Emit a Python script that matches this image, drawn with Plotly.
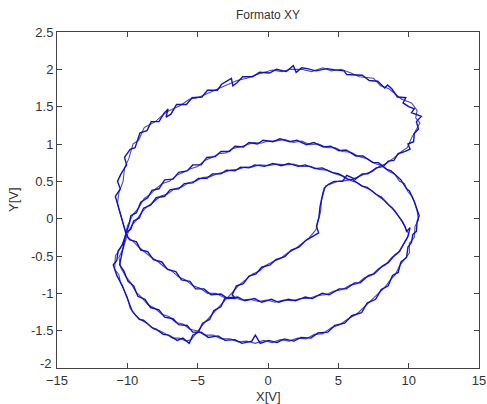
import plotly.graph_objects as go

# ---- data (two overlapping sweeps) ----
top_a = [(-10.1,-0.2),(-10.4,-0.02),(-10.55,0.1),(-10.85,0.3),(-10.5,0.4),(-10.7,0.5),(-10.45,0.6),(-10.05,0.72),(-10.2,0.82),(-9.8,0.93),(-9.45,0.95),(-9.1,1.15),(-8.6,1.18),(-8.3,1.3),(-7.75,1.3),(-7.4,1.41),(-7.1,1.47),(-7.25,1.36),(-6.9,1.4),(-6.5,1.53),(-5.8,1.53),(-5.4,1.62),(-4.7,1.63),(-4.3,1.72),(-3.6,1.72),(-3.3,1.8),(-2.6,1.88),(-2.5,1.78),(-2.2,1.82),(-1.8,1.9),(-1.1,1.9),(-0.6,1.96),(0.1,1.95),(0.6,2.0),(1.3,1.97),(1.8,2.05),(2.0,1.96),(2.4,2.02),(2.8,2.01),(3.4,1.98),(4.2,2.01),(4.9,1.99),(5.4,1.98),(5.6,1.93),(6.1,1.93),(6.7,1.92),(7.2,1.85),(7.8,1.84),(8.3,1.75),(8.5,1.79),(8.8,1.74),(9.2,1.63),(9.8,1.62),(9.6,1.55),(10.0,1.5),(10.4,1.47),(10.2,1.42),(10.9,1.37),(10.55,1.3),(10.7,1.2),(10.4,1.14),(10.35,1.03),(9.95,1.0),(10.1,0.93),(9.75,0.9),(9.25,0.87),(8.95,0.78),(8.55,0.77),(8.2,0.7),(7.7,0.68),(7.1,0.6),(6.7,0.6),(6.2,0.53),(5.6,0.58),(5.3,0.5),(4.7,0.5),(4.3,0.46)]
diag_a = [(4.0,0.41),(3.88,0.32),(3.7,0.16),(3.62,0.02),(3.45,-0.1),(3.6,-0.19),(3.1,-0.24),(2.7,-0.29),(2.2,-0.38),(1.65,-0.42),(1.2,-0.51),(0.55,-0.55),(0.15,-0.62),(-0.45,-0.65),(-0.85,-0.74),(-1.35,-0.77),(-1.75,-0.87),(-2.25,-0.9),(-2.55,-1.02),(-2.3,-1.07),(-3.05,-1.06),(-3.35,-1.18),(-3.85,-1.23),(-4.15,-1.35),(-4.65,-1.4),(-4.95,-1.52),(-5.35,-1.56),(-5.6,-1.67)]
lowleft_a = [(-6.05,-1.6),(-6.45,-1.63),(-7.05,-1.56),(-7.45,-1.55),(-7.95,-1.48),(-8.25,-1.46),(-8.85,-1.36),(-9.15,-1.35),(-9.65,-1.24),(-9.85,-1.15),(-10.25,-0.96),(-10.35,-0.9),(-10.75,-0.76),(-11.0,-0.62),(-10.75,-0.56),(-10.65,-0.43),(-10.35,-0.35),(-10.1,-0.2)]
mid_a = [(-9.85,-0.06),(-9.75,0.04),(-9.35,0.08),(-9.05,0.22),(-8.55,0.28),(-8.25,0.38),(-7.75,0.4),(-7.35,0.52),(-6.75,0.53),(-6.35,0.62),(-5.75,0.64),(-5.35,0.72),(-4.75,0.72),(-4.35,0.82),(-3.75,0.83),(-3.35,0.9),(-2.75,0.9),(-2.35,0.97),(-1.75,0.96),(-1.35,1.02),(-0.75,1.0),(-0.35,1.05),(0.35,1.03),(0.85,1.07),(1.55,1.03),(2.05,1.05),(2.75,0.99),(3.25,1.02),(3.95,0.96),(4.45,0.97),(5.05,0.91),(5.55,0.92),(6.25,0.84),(6.75,0.84),(7.45,0.75),(7.85,0.75),(8.45,0.66),(8.75,0.64),(9.25,0.55),(9.45,0.52),(9.85,0.4),(10.05,0.37),(10.4,0.23),(10.5,0.17),(10.75,0.04),(10.6,-0.04),(10.55,-0.17),(10.3,-0.21)]
botout_a = [(10.2,-0.32),(9.95,-0.38),(9.85,-0.52),(9.45,-0.58),(9.25,-0.72),(8.85,-0.76),(8.55,-0.9),(8.05,-0.95),(7.65,-1.08),(7.05,-1.13),(6.65,-1.26),(5.95,-1.3),(5.45,-1.4),(4.75,-1.43),(4.25,-1.52),(3.55,-1.53),(3.05,-1.6),(2.35,-1.59),(1.85,-1.64),(1.15,-1.61),(0.65,-1.66),(0.05,-1.63),(-0.55,-1.67),(-0.9,-1.56),(-1.15,-1.64),(-1.85,-1.67),(-2.35,-1.62),(-3.05,-1.63),(-3.55,-1.57),(-4.25,-1.59),(-4.75,-1.52),(-5.35,-1.52),(-5.75,-1.43),(-6.35,-1.42),(-6.75,-1.34),(-7.35,-1.32),(-7.75,-1.22),(-8.35,-1.19),(-8.75,-1.08),(-9.25,-1.04),(-9.55,-0.9),(-9.95,-0.84),(-10.25,-0.7),(-10.55,-0.62),(-10.35,-0.44),(-10.25,-0.32),(-10.1,-0.2)]
inner_a = [(-9.75,-0.14),(-9.55,-0.03),(-9.15,0.01),(-8.85,0.14),(-8.35,0.18),(-7.95,0.28),(-7.35,0.3),(-6.95,0.39),(-6.35,0.4),(-5.95,0.47),(-5.35,0.48),(-4.95,0.54),(-4.35,0.54),(-3.95,0.6),(-3.35,0.6),(-2.95,0.65),(-2.35,0.64),(-1.95,0.69),(-1.35,0.68),(-0.95,0.72),(-0.25,0.7),(0.35,0.74),(0.95,0.71),(1.45,0.74),(2.15,0.7),(2.65,0.72),(3.35,0.67),(3.85,0.68),(4.55,0.62),(5.05,0.6),(5.65,0.53),(6.05,0.52),(6.65,0.44),(7.05,0.42),(7.65,0.33),(8.05,0.29),(8.55,0.19),(8.85,0.14),(9.25,0.04),(9.45,-0.01),(9.75,-0.11),(9.85,-0.17),(10.1,-0.12)]
botin_a = [(9.95,-0.24),(9.75,-0.3),(9.35,-0.44),(9.05,-0.48),(8.55,-0.59),(8.15,-0.63),(7.55,-0.74),(7.15,-0.76),(6.55,-0.86),(6.15,-0.86),(5.55,-0.94),(5.05,-0.94),(4.35,-1.02),(3.85,-1.0),(3.15,-1.07),(2.65,-1.05),(1.95,-1.1),(1.45,-1.08),(0.75,-1.12),(0.25,-1.08),(-0.45,-1.12),(-0.95,-1.07),(-1.65,-1.1),(-2.15,-1.05),(-2.85,-1.07),(-3.35,-1.01),(-4.05,-1.02),(-4.55,-0.94),(-5.15,-0.94),(-5.55,-0.84),(-6.15,-0.82),(-6.55,-0.71),(-7.15,-0.68),(-7.55,-0.58),(-8.15,-0.55),(-8.55,-0.44),(-9.05,-0.42),(-9.35,-0.31),(-9.85,-0.28),(-10.1,-0.2)]

top_b = [(-10.0,-0.25),(-10.5,0.05),(-10.7,0.2),(-10.6,0.35),(-10.3,0.5),(-10.2,0.68),(-9.9,0.8),(-9.6,1.0),(-9.2,1.05),(-8.8,1.22),(-8.0,1.3),(-7.6,1.37),(-7.1,1.44),(-6.2,1.52),(-5.6,1.6),(-5.0,1.62),(-4.0,1.7),(-3.1,1.78),(-2.2,1.85),(-1.5,1.88),(-0.8,1.93),(0.3,1.99),(1.0,1.97),(1.6,2.0),(2.4,2.0),(3.1,1.97),(3.9,2.02),(4.5,1.98),(5.2,2.0),(5.9,1.95),(6.5,1.9),(7.5,1.88),(8.0,1.78),(8.6,1.74),(9.0,1.68),(9.5,1.6),(10.2,1.55),(10.6,1.45),(10.5,1.35),(10.8,1.28),(10.5,1.18),(10.2,1.08),(9.9,0.95),(9.5,0.9),(9.0,0.82),(8.4,0.74),(7.9,0.7),(7.4,0.63),(6.9,0.6),(6.4,0.56),(5.9,0.52),(5.0,0.5),(4.5,0.47)]
diag_b = [(4.1,0.44),(3.95,0.35),(3.8,0.25),(3.75,0.1),(3.55,-0.03),(3.4,-0.15),(2.9,-0.26),(2.4,-0.33),(1.9,-0.41),(1.4,-0.46),(0.9,-0.53),(0.3,-0.58),(-0.2,-0.63),(-0.6,-0.7),(-1.1,-0.74),(-1.6,-0.82),(-2.0,-0.88),(-2.4,-0.96),(-2.8,-1.04),(-3.2,-1.12),(-3.6,-1.2),(-4.0,-1.28),(-4.4,-1.37),(-4.8,-1.46),(-5.15,-1.55),(-5.45,-1.62)]
lowleft_b = [(-5.8,-1.64),(-6.3,-1.6),(-6.8,-1.6),(-7.2,-1.55),(-7.7,-1.5),(-8.1,-1.48),(-8.6,-1.4),(-9.0,-1.36),(-9.4,-1.3),(-9.8,-1.2),(-10.0,-1.05),(-10.5,-0.85),(-10.6,-0.75),(-10.9,-0.68),(-10.85,-0.5),(-10.5,-0.4),(-10.2,-0.28)]
mid_b = [(-10.0,-0.1),(-9.6,0.06),(-9.2,0.14),(-8.8,0.27),(-8.4,0.32),(-8.0,0.4),(-7.5,0.47),(-7.0,0.5),(-6.5,0.58),(-6.0,0.62),(-5.5,0.67),(-5.0,0.7),(-4.5,0.78),(-4.0,0.82),(-3.5,0.87),(-3.0,0.88),(-2.5,0.94),(-2.0,0.96),(-1.5,0.99),(-1.0,1.02),(-0.5,1.01),(0.0,1.04),(0.6,1.04),(1.2,1.06),(1.8,1.02),(2.4,1.04),(3.0,0.99),(3.6,1.0),(4.2,0.95),(4.8,0.95),(5.3,0.9),(5.9,0.89),(6.5,0.83),(7.1,0.8),(7.6,0.74),(8.1,0.71),(8.6,0.63),(9.0,0.6),(9.35,0.5),(9.7,0.47),(9.95,0.36),(10.25,0.3),(10.45,0.2),(10.6,0.1),(10.7,-0.02),(10.45,-0.1),(10.4,-0.25)]
botout_b = [(10.05,-0.33),(10.05,-0.46),(9.65,-0.55),(9.35,-0.63),(9.05,-0.75),(8.7,-0.82),(8.3,-0.92),(7.85,-1.0),(7.35,-1.1),(6.85,-1.18),(6.3,-1.28),(5.7,-1.34),(5.1,-1.42),(4.5,-1.46),(3.9,-1.54),(3.3,-1.55),(2.7,-1.61),(2.1,-1.6),(1.5,-1.64),(0.9,-1.62),(0.3,-1.66),(-0.3,-1.63),(-0.9,-1.67),(-1.5,-1.64),(-2.1,-1.65),(-2.7,-1.61),(-3.3,-1.61),(-3.9,-1.56),(-4.5,-1.56),(-5.05,-1.5),(-5.55,-1.48),(-6.05,-1.41),(-6.55,-1.39),(-7.05,-1.31),(-7.55,-1.28),(-8.05,-1.2),(-8.55,-1.15),(-9.0,-1.05),(-9.4,-0.98),(-9.75,-0.86),(-10.1,-0.78),(-10.45,-0.66),(-10.6,-0.52),(-10.3,-0.4),(-10.05,-0.26)]
inner_b = [(-9.9,-0.16),(-9.65,-0.08),(-9.35,-0.02),(-9.0,0.08),(-8.6,0.16),(-8.15,0.22),(-7.65,0.3),(-7.15,0.33),(-6.65,0.4),(-6.15,0.42),(-5.65,0.48),(-5.15,0.5),(-4.65,0.55),(-4.15,0.56),(-3.65,0.6),(-3.15,0.62),(-2.65,0.65),(-2.15,0.66),(-1.65,0.69),(-1.15,0.69),(-0.6,0.72),(0.0,0.71),(0.6,0.73),(1.2,0.72),(1.8,0.73),(2.4,0.7),(3.0,0.7),(3.6,0.66),(4.2,0.65),(4.8,0.6),(5.35,0.57),(5.85,0.51),(6.35,0.48),(6.85,0.42),(7.35,0.38),(7.85,0.3),(8.3,0.24),(8.7,0.16),(9.05,0.1),(9.35,0.01),(9.6,-0.05),(9.8,-0.14),(10.0,-0.2)]
botin_b = [(9.85,-0.28),(9.55,-0.36),(9.2,-0.47),(8.8,-0.52),(8.35,-0.62),(7.85,-0.67),(7.35,-0.76),(6.85,-0.79),(6.35,-0.87),(5.85,-0.89),(5.3,-0.95),(4.7,-0.97),(4.1,-1.02),(3.5,-1.03),(2.9,-1.07),(2.3,-1.07),(1.7,-1.1),(1.1,-1.09),(0.5,-1.12),(-0.1,-1.09),(-0.7,-1.11),(-1.3,-1.08),(-1.9,-1.09),(-2.5,-1.05),(-3.1,-1.06),(-3.7,-1.0),(-4.3,-1.0),(-4.85,-0.93),(-5.35,-0.9),(-5.85,-0.82),(-6.35,-0.78),(-6.85,-0.7),(-7.35,-0.65),(-7.85,-0.57),(-8.35,-0.51),(-8.8,-0.44),(-9.2,-0.38),(-9.6,-0.3),(-10.0,-0.25)]

x_ticks = [-15, -10, -5, 0, 5, 10, 15]
y_ticks = [-1.5, -1, -0.5, 0, 0.5, 1, 1.5, 2, 2.5]
y_tick_text = ["-1.5", "-1", "-0.5", "0", "0.5", "1", "1.5", "2", "2.5"]
y_bottom_tick = -2  # its label sits a little higher, as in the picture

sweep_a = top_a + diag_a + lowleft_a + mid_a + botout_a + inner_a + botin_a
sweep_b = top_b + diag_b + lowleft_b + mid_b + botout_b + inner_b + botin_b

fig = go.Figure()
fig.add_trace(go.Scatter(x=[p[0] for p in sweep_b], y=[p[1] for p in sweep_b],
                         mode="lines", line=dict(color="rgb(75,75,165)", width=1.1),
                         hoverinfo="skip"))
fig.add_trace(go.Scatter(x=[p[0] for p in sweep_a], y=[p[1] for p in sweep_a],
                         mode="lines", line=dict(color="rgb(15,15,210)", width=1.4),
                         hoverinfo="skip"))

tick_font = dict(family="Liberation Sans, Arial", size=13, color="#333")
axis_common = dict(showgrid=False, zeroline=False, ticks="inside", ticklen=5,
                   tickcolor="#444", showline=True, linecolor="#444", linewidth=1,
                   mirror="ticks", tickfont=tick_font, ticklabeloverflow="allow",
                   automargin=False)

fig.update_layout(
    width=487, height=404,
    margin=dict(l=57, r=8, t=32, b=36),
    paper_bgcolor="white", plot_bgcolor="white",
    showlegend=False,
    xaxis=dict(range=[-15, 15], tickvals=x_ticks, **axis_common),
    yaxis=dict(range=[-2, 2.5], tickvals=[y_bottom_tick] + y_ticks,
               ticktext=[""] + y_tick_text, **axis_common),
    annotations=[
        dict(text=str(y_bottom_tick), xref="paper", yref="y", x=0, y=y_bottom_tick,
             xshift=-3, yshift=5, showarrow=False, xanchor="right", yanchor="middle",
             font=tick_font),
        dict(text="Formato XY", xref="paper", yref="paper", x=0.5, y=1, yshift=8,
             showarrow=False, xanchor="center", yanchor="bottom",
             font=dict(family="Liberation Sans, Arial", size=12, color="#333")),
        dict(text="X[V]", xref="paper", yref="paper", x=0.5, y=0, yshift=-19,
             showarrow=False, xanchor="center", yanchor="top",
             font=dict(family="Liberation Sans, Arial", size=13, color="#333")),
        dict(text="Y[V]", xref="paper", yref="paper", x=0, y=0.5, xshift=-44,
             showarrow=False, xanchor="center", yanchor="middle", textangle=-90,
             font=dict(family="Liberation Sans, Arial", size=13, color="#333")),
    ],
)

fig.write_html("out.html")
